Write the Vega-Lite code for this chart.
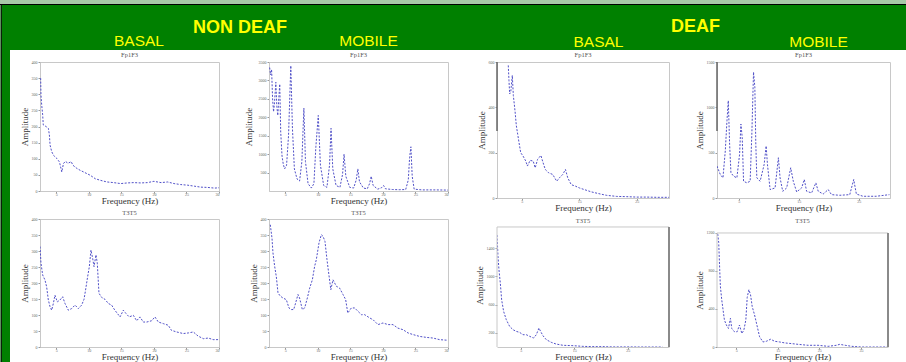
{
  "$schema": "https://vega.github.io/schema/vega-lite/v6.json",
  "background": "white",
  "padding": 0,
  "columns": 14,
  "align": "none",
  "bounds": "flush",
  "spacing": 0,
  "data": {"values": []},
  "config": {
    "view": {"stroke": "#c8c8c8"},
    "line": {"stroke": "#5050c8", "strokeWidth": 1, "strokeDash": [2, 1.5]},
    "axis": {"grid": false, "labelFontSize": 4, "labelColor": "#666", "labelFont": "Liberation Serif", "tickSize": 2, "tickColor": "#999", "domainColor": "#c8c8c8", "titleFont": "Liberation Serif", "titleFontWeight": "normal", "titleFontSize": 9, "titleColor": "#333", "labelPadding": -1, "titlePadding": 0.5},
    "axisY": {"labelPadding": 1, "titlePadding": 2},
    "title": {"fontSize": 6.5, "font": "Liberation Serif", "fontWeight": "normal", "color": "#555", "offset": 2}
  },
  "datasets": {
    "p1": [{"f":2.6,"a":350},{"f":2.65,"a":298},{"f":2.76,"a":267},{"f":2.91,"a":236},{"f":3.0,"a":205},{"f":3.43,"a":200},{"f":3.79,"a":194},{"f":3.94,"a":174},{"f":4.05,"a":142},{"f":4.3,"a":122},{"f":4.56,"a":111},{"f":5.08,"a":101},{"f":5.49,"a":90},{"f":5.85,"a":59},{"f":6.1,"a":85},{"f":6.4,"a":92},{"f":6.8,"a":86},{"f":7.3,"a":91},{"f":7.55,"a":80},{"f":8.17,"a":70},{"f":8.69,"a":64},{"f":9.2,"a":59},{"f":9.7,"a":54},{"f":10.2,"a":49},{"f":11.0,"a":38},{"f":11.8,"a":33},{"f":12.8,"a":28},{"f":13.8,"a":26},{"f":14.9,"a":23},{"f":15.9,"a":25},{"f":16.9,"a":26},{"f":18.0,"a":25},{"f":19.0,"a":26},{"f":20.0,"a":30},{"f":21.1,"a":26},{"f":22.1,"a":28},{"f":23.1,"a":23},{"f":24.1,"a":20},{"f":25.2,"a":18},{"f":26.2,"a":15},{"f":27.2,"a":12},{"f":28.3,"a":11},{"f":29.3,"a":9},{"f":30,"a":10}],
    "p2": [{"f":2.6,"a":3350},{"f":2.75,"a":3150},{"f":2.9,"a":3300},{"f":3.05,"a":2500},{"f":3.2,"a":2150},{"f":3.35,"a":2400},{"f":3.55,"a":2950},{"f":3.7,"a":2300},{"f":3.85,"a":2050},{"f":4.0,"a":2500},{"f":4.15,"a":2900},{"f":4.3,"a":1600},{"f":4.5,"a":950},{"f":4.7,"a":720},{"f":4.9,"a":600},{"f":5.2,"a":700},{"f":5.5,"a":1500},{"f":5.85,"a":3400},{"f":6.1,"a":1700},{"f":6.4,"a":600},{"f":6.8,"a":330},{"f":7.2,"a":270},{"f":7.55,"a":800},{"f":7.86,"a":2250},{"f":8.1,"a":800},{"f":8.5,"a":200},{"f":9.0,"a":80},{"f":9.4,"a":200},{"f":9.7,"a":1200},{"f":10.07,"a":2050},{"f":10.4,"a":700},{"f":10.9,"a":150},{"f":11.4,"a":100},{"f":11.8,"a":700},{"f":12.03,"a":1700},{"f":12.3,"a":600},{"f":12.8,"a":150},{"f":13.4,"a":100},{"f":13.8,"a":450},{"f":14.03,"a":1000},{"f":14.3,"a":400},{"f":14.9,"a":100},{"f":15.5,"a":80},{"f":15.9,"a":300},{"f":16.15,"a":600},{"f":16.4,"a":250},{"f":17.0,"a":80},{"f":17.6,"a":60},{"f":17.95,"a":200},{"f":18.2,"a":400},{"f":18.5,"a":150},{"f":19.2,"a":50},{"f":19.8,"a":90},{"f":20.1,"a":150},{"f":20.4,"a":60},{"f":21.5,"a":40},{"f":22.5,"a":35},{"f":23.5,"a":40},{"f":23.9,"a":300},{"f":24.1,"a":900},{"f":24.3,"a":1200},{"f":24.5,"a":400},{"f":24.8,"a":50},{"f":26,"a":30},{"f":28,"a":30},{"f":30,"a":25}],
    "p3": [{"f":2.66,"a":585},{"f":2.78,"a":519},{"f":2.9,"a":459},{"f":3.1,"a":470},{"f":3.36,"a":541},{"f":3.54,"a":452},{"f":3.83,"a":385},{"f":4.06,"a":319},{"f":4.3,"a":281},{"f":4.53,"a":244},{"f":4.82,"a":200},{"f":5.23,"a":185},{"f":5.7,"a":163},{"f":5.99,"a":141},{"f":6.46,"a":166},{"f":6.99,"a":163},{"f":7.34,"a":133},{"f":7.75,"a":170},{"f":8.33,"a":188},{"f":8.62,"a":163},{"f":9.09,"a":126},{"f":9.68,"a":111},{"f":10.38,"a":104},{"f":11.08,"a":74},{"f":11.55,"a":89},{"f":12.13,"a":104},{"f":12.6,"a":126},{"f":13.0,"a":89},{"f":13.6,"a":59},{"f":14.36,"a":52},{"f":15.06,"a":44},{"f":15.9,"a":37},{"f":17.1,"a":27},{"f":18.6,"a":18},{"f":19.7,"a":12},{"f":21.5,"a":7},{"f":23.2,"a":6},{"f":25,"a":4},{"f":26.8,"a":4},{"f":28.5,"a":3},{"f":30.6,"a":3}],
    "p4": [{"f":1.4,"a":352},{"f":1.95,"a":259},{"f":2.39,"a":222},{"f":2.78,"a":519},{"f":3.06,"a":852},{"f":3.28,"a":1074},{"f":3.5,"a":593},{"f":3.72,"a":278},{"f":4.16,"a":241},{"f":4.71,"a":222},{"f":5.16,"a":481},{"f":5.38,"a":815},{"f":5.6,"a":667},{"f":5.82,"a":185},{"f":6.37,"a":167},{"f":6.92,"a":185},{"f":7.2,"a":704},{"f":7.48,"a":1389},{"f":7.7,"a":1222},{"f":7.86,"a":593},{"f":8.03,"a":222},{"f":8.58,"a":185},{"f":9.25,"a":370},{"f":9.58,"a":574},{"f":9.8,"a":370},{"f":10.24,"a":93},{"f":11.07,"a":111},{"f":11.62,"a":444},{"f":11.9,"a":222},{"f":12.34,"a":74},{"f":13.0,"a":111},{"f":13.67,"a":333},{"f":14.1,"a":185},{"f":14.66,"a":67},{"f":15.49,"a":111},{"f":15.93,"a":204},{"f":16.32,"a":74},{"f":17.15,"a":56},{"f":17.86,"a":167},{"f":18.25,"a":74},{"f":19.08,"a":44},{"f":19.91,"a":93},{"f":20.46,"a":37},{"f":21.84,"a":30},{"f":23.5,"a":37},{"f":24.16,"a":204},{"f":24.6,"a":44},{"f":25.7,"a":19},{"f":27.9,"a":19},{"f":30.1,"a":37}],
    "p5": [{"f":2.5,"a":314},{"f":2.65,"a":262},{"f":2.91,"a":225},{"f":3.27,"a":209},{"f":3.52,"a":188},{"f":3.78,"a":147},{"f":4.04,"a":126},{"f":4.29,"a":115},{"f":4.55,"a":136},{"f":4.8,"a":162},{"f":5.16,"a":141},{"f":5.57,"a":147},{"f":5.98,"a":157},{"f":6.34,"a":136},{"f":6.85,"a":115},{"f":7.36,"a":120},{"f":7.88,"a":131},{"f":8.39,"a":120},{"f":8.9,"a":131},{"f":9.26,"a":149},{"f":9.5,"a":178},{"f":9.82,"a":220},{"f":10.08,"a":251},{"f":10.33,"a":303},{"f":10.59,"a":277},{"f":10.8,"a":251},{"f":11.1,"a":288},{"f":11.3,"a":262},{"f":11.56,"a":168},{"f":11.97,"a":155},{"f":12.48,"a":149},{"f":13.0,"a":136},{"f":13.5,"a":131},{"f":14.0,"a":115},{"f":14.8,"a":94},{"f":15.3,"a":115},{"f":15.7,"a":105},{"f":16.2,"a":94},{"f":16.84,"a":99},{"f":17.35,"a":82},{"f":17.86,"a":94},{"f":18.37,"a":78},{"f":18.9,"a":78},{"f":19.65,"a":82},{"f":20.16,"a":94},{"f":20.68,"a":78},{"f":21.45,"a":73},{"f":22.2,"a":68},{"f":22.7,"a":52},{"f":23.5,"a":47},{"f":24.5,"a":42},{"f":25.3,"a":44},{"f":26.05,"a":47},{"f":26.8,"a":34},{"f":27.6,"a":26},{"f":28.36,"a":28},{"f":29.1,"a":23},{"f":30,"a":23}],
    "p6": [{"f":2.7,"a":382},{"f":2.96,"a":340},{"f":3.11,"a":294},{"f":3.37,"a":252},{"f":3.63,"a":219},{"f":3.88,"a":169},{"f":4.24,"a":159},{"f":4.65,"a":153},{"f":5.16,"a":148},{"f":5.57,"a":122},{"f":5.93,"a":117},{"f":6.29,"a":117},{"f":6.6,"a":138},{"f":6.95,"a":164},{"f":7.2,"a":153},{"f":7.62,"a":117},{"f":7.98,"a":122},{"f":8.39,"a":153},{"f":8.75,"a":184},{"f":9.16,"a":210},{"f":9.51,"a":252},{"f":9.77,"a":273},{"f":10.18,"a":325},{"f":10.54,"a":351},{"f":10.8,"a":346},{"f":11.1,"a":330},{"f":11.41,"a":273},{"f":11.7,"a":226},{"f":12.0,"a":179},{"f":12.33,"a":210},{"f":12.84,"a":190},{"f":13.35,"a":184},{"f":13.87,"a":164},{"f":14.28,"a":148},{"f":14.6,"a":106},{"f":15.15,"a":122},{"f":15.66,"a":122},{"f":16.2,"a":111},{"f":16.7,"a":101},{"f":17.2,"a":101},{"f":17.96,"a":91},{"f":18.5,"a":85},{"f":19.24,"a":70},{"f":20.0,"a":75},{"f":20.8,"a":70},{"f":21.55,"a":70},{"f":22.3,"a":59},{"f":23.1,"a":54},{"f":23.85,"a":44},{"f":24.6,"a":39},{"f":25.65,"a":33},{"f":26.7,"a":30},{"f":27.7,"a":28},{"f":28.7,"a":23},{"f":30,"a":21}],
    "p7": [{"f":0.56,"a":1586},{"f":0.75,"a":1280},{"f":0.93,"a":1092},{"f":1.18,"a":904},{"f":1.43,"a":668},{"f":1.8,"a":504},{"f":2.3,"a":386},{"f":2.92,"a":292},{"f":3.55,"a":245},{"f":4.17,"a":221},{"f":4.79,"a":207},{"f":5.41,"a":174},{"f":6.04,"a":174},{"f":6.66,"a":151},{"f":7.4,"a":127},{"f":7.9,"a":174},{"f":8.4,"a":268},{"f":8.71,"a":221},{"f":9.15,"a":160},{"f":9.77,"a":104},{"f":10.7,"a":66},{"f":11.6,"a":42},{"f":12.9,"a":24},{"f":14.75,"a":19},{"f":16.6,"a":9},{"f":18.5,"a":5},{"f":20.35,"a":5},{"f":22.2,"a":1},{"f":24.7,"a":1},{"f":27.2,"a":0},{"f":29.7,"a":0},{"f":31.5,"a":0}],
    "p8": [{"f":0.57,"a":1189},{"f":0.81,"a":1100},{"f":1.05,"a":816},{"f":1.21,"a":639},{"f":1.54,"a":497},{"f":1.86,"a":390},{"f":2.18,"a":284},{"f":2.66,"a":231},{"f":3.15,"a":195},{"f":3.63,"a":302},{"f":3.95,"a":195},{"f":4.6,"a":160},{"f":5.24,"a":160},{"f":5.8,"a":231},{"f":6.37,"a":142},{"f":6.85,"a":177},{"f":7.33,"a":284},{"f":7.66,"a":522},{"f":8.06,"a":603},{"f":8.46,"a":550},{"f":8.86,"a":426},{"f":9.43,"a":337},{"f":9.99,"a":231},{"f":10.64,"a":107},{"f":11.44,"a":53},{"f":12.25,"a":60},{"f":13.3,"a":82},{"f":14.25,"a":60},{"f":15.46,"a":53},{"f":16.67,"a":43},{"f":18.28,"a":36},{"f":19.9,"a":28},{"f":22.3,"a":18},{"f":24.7,"a":18},{"f":27.1,"a":7},{"f":29.1,"a":18},{"f":29.9,"a":28},{"f":31.2,"a":18},{"f":32.8,"a":7},{"f":35.2,"a":0},{"f":38.4,"a":0},{"f":41.5,"a":0}]
  },
  "concat": [
    {"width": 1, "height": 4, "mark": "point", "view": {"fill": "#a8c8a8", "stroke": null}},
    {"width": 1, "height": 4, "mark": "point", "view": {"fill": "#a8c8a8", "stroke": null}},
    {"width": 8, "height": 4, "mark": "point", "view": {"fill": "#a8c8a8", "stroke": null}},
    {"width": 30, "height": 4, "mark": "point", "view": {"fill": "#a8c8a8", "stroke": null}},
    {"width": 179, "height": 4, "mark": "point", "view": {"fill": "#a8c8a8", "stroke": null}},
    {"width": 50, "height": 4, "mark": "point", "view": {"fill": "#a8c8a8", "stroke": null}},
    {"width": 179, "height": 4, "mark": "point", "view": {"fill": "#a8c8a8", "stroke": null}},
    {"width": 7, "height": 4, "mark": "point", "view": {"fill": "#a8c8a8", "stroke": null}},
    {"width": 7, "height": 4, "mark": "point", "view": {"fill": "#a8c8a8", "stroke": null}},
    {"width": 35, "height": 4, "mark": "point", "view": {"fill": "#a8c8a8", "stroke": null}},
    {"width": 172, "height": 4, "mark": "point", "view": {"fill": "#a8c8a8", "stroke": null}},
    {"width": 48, "height": 4, "mark": "point", "view": {"fill": "#a8c8a8", "stroke": null}},
    {"width": 173, "height": 4, "mark": "point", "view": {"fill": "#a8c8a8", "stroke": null}},
    {"width": 16, "height": 4, "mark": "point", "view": {"fill": "#a8c8a8", "stroke": null}},

    {"width": 1, "height": 1, "mark": "point", "view": {"fill": "#000000", "stroke": null}},
    {"width": 1, "height": 1, "mark": "point", "view": {"fill": "#000000", "stroke": null}},
    {"width": 8, "height": 1, "mark": "point", "view": {"fill": "#000000", "stroke": null}},
    {"width": 30, "height": 1, "mark": "point", "view": {"fill": "#000000", "stroke": null}},
    {"width": 179, "height": 1, "mark": "point", "view": {"fill": "#000000", "stroke": null}},
    {"width": 50, "height": 1, "mark": "point", "view": {"fill": "#000000", "stroke": null}},
    {"width": 179, "height": 1, "mark": "point", "view": {"fill": "#000000", "stroke": null}},
    {"width": 7, "height": 1, "mark": "point", "view": {"fill": "#000000", "stroke": null}},
    {"width": 7, "height": 1, "mark": "point", "view": {"fill": "#000000", "stroke": null}},
    {"width": 35, "height": 1, "mark": "point", "view": {"fill": "#000000", "stroke": null}},
    {"width": 172, "height": 1, "mark": "point", "view": {"fill": "#000000", "stroke": null}},
    {"width": 48, "height": 1, "mark": "point", "view": {"fill": "#000000", "stroke": null}},
    {"width": 173, "height": 1, "mark": "point", "view": {"fill": "#000000", "stroke": null}},
    {"width": 16, "height": 1, "mark": "point", "view": {"fill": "#000000", "stroke": null}},

    {"width": 1, "height": 45, "mark": "point", "view": {"fill": "#5f8f5f", "stroke": null}},
    {"width": 1, "height": 45, "mark": "point", "view": {"fill": "#0a200a", "stroke": null}},
    {"width": 8, "height": 45, "mark": "point", "view": {"fill": "#008000", "stroke": null}},
    {"width": 30, "height": 45, "mark": "point", "view": {"fill": "#008000", "stroke": null}},
    {"width": 179, "height": 45, "view": {"fill": "#008000", "stroke": null}, "data": {"values": [{"label": "BASAL"}]},
     "mark": {"type": "text", "font": "Liberation Sans", "fontSize": 15.5, "color": "#ffff00", "baseline": "alphabetic", "align": "center", "dx": 9.5, "dy": 18.5},
     "encoding": {"text": {"field": "label", "type": "nominal"}}},
    {"width": 50, "height": 45, "mark": "point", "view": {"fill": "#008000", "stroke": null}},
    {"width": 179, "height": 45, "view": {"fill": "#008000", "stroke": null},
     "layer": [
       {"data": {"values": [{"label": "NON DEAF"}]}, "mark": {"type": "text", "font": "Liberation Sans", "fontSize": 18, "fontWeight": "bold", "color": "#ffff00", "baseline": "alphabetic", "align": "center", "dx": -118.5, "dy": 5.2}, "encoding": {"text": {"field": "label", "type": "nominal"}}},
       {"data": {"values": [{"label": "MOBILE"}]}, "mark": {"type": "text", "font": "Liberation Sans", "fontSize": 15.5, "color": "#ffff00", "baseline": "alphabetic", "align": "center", "dx": 10, "dy": 18.5}, "encoding": {"text": {"field": "label", "type": "nominal"}}}
     ]},
    {"width": 7, "height": 45, "mark": "point", "view": {"fill": "#008000", "stroke": null}},
    {"width": 7, "height": 45, "mark": "point", "view": {"fill": "#008000", "stroke": null}},
    {"width": 35, "height": 45, "mark": "point", "view": {"fill": "#008000", "stroke": null}},
    {"width": 172, "height": 45, "view": {"fill": "#008000", "stroke": null}, "data": {"values": [{"label": "BASAL"}]},
     "mark": {"type": "text", "font": "Liberation Sans", "fontSize": 15.5, "color": "#ffff00", "baseline": "alphabetic", "align": "center", "dx": 15.5, "dy": 19.2},
     "encoding": {"text": {"field": "label", "type": "nominal"}}},
    {"width": 48, "height": 45, "mark": "point", "view": {"fill": "#008000", "stroke": null}},
    {"width": 173, "height": 45, "view": {"fill": "#008000", "stroke": null},
     "layer": [
       {"data": {"values": [{"label": "DEAF"}]}, "mark": {"type": "text", "font": "Liberation Sans", "fontSize": 18, "fontWeight": "bold", "color": "#ffff00", "baseline": "alphabetic", "align": "center", "dx": -108, "dy": 4.8}, "encoding": {"text": {"field": "label", "type": "nominal"}}},
       {"data": {"values": [{"label": "MOBILE"}]}, "mark": {"type": "text", "font": "Liberation Sans", "fontSize": 15.5, "color": "#ffff00", "baseline": "alphabetic", "align": "center", "dx": 15, "dy": 19}, "encoding": {"text": {"field": "label", "type": "nominal"}}}
     ]},
    {"width": 16, "height": 45, "mark": "point", "view": {"fill": "#008000", "stroke": null}},

    {"width": 1, "height": 12, "mark": "point", "view": {"fill": "#5f8f5f", "stroke": null}},
    {"width": 1, "height": 12, "mark": "point", "view": {"fill": "#0a200a", "stroke": null}},
    {"width": 8, "height": 12, "mark": "point", "view": {"fill": "#008000", "stroke": null}},
    {"width": 30, "height": 12, "mark": "point", "view": {"stroke": null}},
    {"width": 179, "height": 12, "mark": "point", "view": {"stroke": null}},
    {"width": 50, "height": 12, "mark": "point", "view": {"stroke": null}},
    {"width": 179, "height": 12, "mark": "point", "view": {"stroke": null}},
    {"width": 7, "height": 12, "mark": "point", "view": {"stroke": null}},
    {"width": 7, "height": 12, "mark": "point", "view": {"stroke": null}},
    {"width": 35, "height": 12, "mark": "point", "view": {"stroke": null}},
    {"width": 172, "height": 12, "mark": "point", "view": {"stroke": null}},
    {"width": 48, "height": 12, "mark": "point", "view": {"stroke": null}},
    {"width": 173, "height": 12, "mark": "point", "view": {"stroke": null}},
    {"width": 16, "height": 12, "mark": "point", "view": {"stroke": null}},

    {"width": 1, "height": 136, "mark": "point", "view": {"fill": "#5f8f5f", "stroke": null}},
    {"width": 1, "height": 136, "mark": "point", "view": {"fill": "#0a200a", "stroke": null}},
    {"width": 8, "height": 136, "mark": "point", "view": {"fill": "#008000", "stroke": null}},
    {"width": 30, "height": 1, "mark": "point", "view": {"stroke": null}},
    {"width": 179, "height": 129, "title": {"text": "Fp1F3"}, "data": {"name": "p1"}, "mark": {"type": "line", "clip": true},
     "encoding": {"x": {"field": "f", "type": "quantitative", "scale": {"domain": [2.5, 30], "nice": false, "zero": false}, "axis": {"values": [5, 10, 15, 20, 25, 30], "title": "Frequency (Hz)"}},
                  "y": {"field": "a", "type": "quantitative", "scale": {"domain": [0, 400], "nice": false}, "axis": {"values": [0, 50, 100, 150, 200, 250, 300, 350, 400], "format": "d", "title": "Amplitude"}}}},
    {"width": 50, "height": 1, "mark": "point", "view": {"stroke": null}},
    {"width": 179, "height": 129, "title": {"text": "Fp1F3"}, "data": {"name": "p2"}, "mark": {"type": "line", "clip": true},
     "encoding": {"x": {"field": "f", "type": "quantitative", "scale": {"domain": [2.5, 30], "nice": false, "zero": false}, "axis": {"values": [5, 10, 15, 20, 25, 30], "title": "Frequency (Hz)"}},
                  "y": {"field": "a", "type": "quantitative", "scale": {"domain": [0, 3500], "nice": false}, "axis": {"values": [500, 1000, 1500, 2000, 2500, 3000, 3500], "format": "d", "title": "Amplitude", "titlePadding": 5}}}},
    {"width": 7, "height": 1, "mark": "point", "view": {"stroke": null}},
    {"width": 7, "height": 1, "mark": "point", "view": {"stroke": null}},
    {"width": 35, "height": 1, "mark": "point", "view": {"stroke": null}},
    {"width": 172, "height": 136, "title": {"text": "Fp1F3"},
     "layer": [
       {"data": {"name": "p3"}, "mark": {"type": "line", "clip": true},
        "encoding": {"x": {"field": "f", "type": "quantitative", "scale": {"domain": [0.7, 30.6], "nice": false, "zero": false}, "axis": {"values": [5, 10, 15, 20, 25, 30], "title": "Frequency (Hz)"}},
                     "y": {"field": "a", "type": "quantitative", "scale": {"domain": [0, 600], "nice": false}, "axis": {"values": [0, 100, 200, 300, 400, 500, 600], "format": "d", "title": "Amplitude"}}}},
       {"data": {"values": [{}]}, "mark": {"type": "rule", "color": "#666", "strokeWidth": 1.5},
        "encoding": {"x": {"datum": 0.7, "type": "quantitative", "title": "Frequency (Hz)"}, "y": {"datum": 296, "type": "quantitative", "title": "Amplitude"}, "y2": {"datum": 600}}}
     ]},
    {"width": 48, "height": 1, "mark": "point", "view": {"stroke": null}},
    {"width": 173, "height": 136, "title": {"text": "Fp1F3"},
     "layer": [
       {"data": {"name": "p4"}, "mark": {"type": "line", "clip": true},
        "encoding": {"x": {"field": "f", "type": "quantitative", "scale": {"domain": [1.4, 30.2], "nice": false, "zero": false}, "axis": {"values": [5, 10, 15, 20, 25, 30], "title": "Frequency (Hz)"}},
                     "y": {"field": "a", "type": "quantitative", "scale": {"domain": [0, 1500], "nice": false}, "axis": {"values": [0, 500, 1000, 1500], "format": "d", "title": "Amplitude"}}}},
       {"data": {"values": [{}]}, "mark": {"type": "rule", "color": "#666", "strokeWidth": 1.5},
        "encoding": {"x": {"datum": 1.4, "type": "quantitative", "title": "Frequency (Hz)"}, "y": {"datum": 740, "type": "quantitative", "title": "Amplitude"}, "y2": {"datum": 1500}}}
     ]},
    {"width": 16, "height": 1, "mark": "point", "view": {"stroke": null}},

    {"width": 1, "height": 21, "mark": "point", "view": {"fill": "#5f8f5f", "stroke": null}},
    {"width": 1, "height": 21, "mark": "point", "view": {"fill": "#0a200a", "stroke": null}},
    {"width": 8, "height": 21, "mark": "point", "view": {"fill": "#008000", "stroke": null}},
    {"width": 30, "height": 1, "mark": "point", "view": {"stroke": null}},
    {"width": 179, "height": 1, "mark": "point", "view": {"stroke": null}},
    {"width": 50, "height": 1, "mark": "point", "view": {"stroke": null}},
    {"width": 179, "height": 1, "mark": "point", "view": {"stroke": null}},
    {"width": 7, "height": 1, "mark": "point", "view": {"stroke": null}},
    {"width": 7, "height": 1, "mark": "point", "view": {"stroke": null}},
    {"width": 35, "height": 1, "mark": "point", "view": {"stroke": null}},
    {"width": 172, "height": 1, "mark": "point", "view": {"stroke": null}},
    {"width": 48, "height": 1, "mark": "point", "view": {"stroke": null}},
    {"width": 173, "height": 1, "mark": "point", "view": {"stroke": null}},
    {"width": 16, "height": 1, "mark": "point", "view": {"stroke": null}},

    {"width": 1, "height": 143, "mark": "point", "view": {"fill": "#5f8f5f", "stroke": null}},
    {"width": 1, "height": 143, "mark": "point", "view": {"fill": "#0a200a", "stroke": null}},
    {"width": 8, "height": 143, "mark": "point", "view": {"fill": "#008000", "stroke": null}},
    {"width": 30, "height": 1, "mark": "point", "view": {"stroke": null}},
    {"width": 179, "height": 128, "title": {"text": "T3T5", "offset": 1}, "data": {"name": "p5"}, "mark": {"type": "line", "clip": true},
     "encoding": {"x": {"field": "f", "type": "quantitative", "scale": {"domain": [2.5, 30], "nice": false, "zero": false}, "axis": {"values": [5, 10, 15, 20, 25, 30], "title": "Frequency (Hz)"}},
                  "y": {"field": "a", "type": "quantitative", "scale": {"domain": [0, 400], "nice": false}, "axis": {"values": [0, 50, 100, 150, 200, 250, 300, 350, 400], "format": "d", "title": "Amplitude"}}}},
    {"width": 50, "height": 1, "mark": "point", "view": {"stroke": null}},
    {"width": 179, "height": 128, "title": {"text": "T3T5", "offset": 1}, "data": {"name": "p6"}, "mark": {"type": "line", "clip": true},
     "encoding": {"x": {"field": "f", "type": "quantitative", "scale": {"domain": [2.5, 30], "nice": false, "zero": false}, "axis": {"values": [5, 10, 15, 20, 25, 30], "title": "Frequency (Hz)"}},
                  "y": {"field": "a", "type": "quantitative", "scale": {"domain": [0, 400], "nice": false}, "axis": {"values": [0, 50, 100, 150, 200, 250, 300, 350, 400], "format": "d", "title": "Amplitude"}}}},
    {"width": 7, "height": 1, "mark": "point", "view": {"stroke": null}},
    {"width": 7, "height": 1, "mark": "point", "view": {"stroke": null}},
    {"width": 35, "height": 1, "mark": "point", "view": {"stroke": null}},
    {"width": 172, "height": 128, "title": {"text": "T3T5", "offset": -5}, "view": {"stroke": null},
     "layer": [
       {"data": {"name": "p7"}, "mark": {"type": "line", "clip": true},
        "encoding": {"x": {"field": "f", "type": "quantitative", "scale": {"domain": [0.56, 32.7], "nice": false, "zero": false}, "axis": {"values": [5, 10, 15, 20, 25, 30], "title": "Frequency (Hz)"}},
                     "y": {"field": "a", "type": "quantitative", "scale": {"domain": [0, 1813], "nice": false}, "axis": {"values": [200, 400, 600, 800, 1000, 1200, 1400, 1600], "format": "d", "title": "Amplitude", "domain": false, "titleY": 66}}}},
       {"data": {"values": [{}]}, "mark": {"type": "rule", "color": "#c8c8c8"},
        "encoding": {"x": {"datum": 0.56, "type": "quantitative", "title": "Frequency (Hz)"}, "y": {"datum": 0, "type": "quantitative", "title": "Amplitude"}, "y2": {"datum": 1700}}},
       {"data": {"values": [{}]}, "mark": {"type": "rule", "color": "#c8c8c8"},
        "encoding": {"x": {"datum": 0.56, "type": "quantitative", "title": "Frequency (Hz)"}, "x2": {"datum": 32.7}, "y": {"datum": 1700, "type": "quantitative", "title": "Amplitude"}}},
       {"data": {"values": [{}]}, "mark": {"type": "rule", "color": "#8a8a8a", "strokeWidth": 2},
        "encoding": {"x": {"datum": 32.7, "type": "quantitative", "title": "Frequency (Hz)"}, "y": {"datum": 0, "type": "quantitative", "title": "Amplitude"}, "y2": {"datum": 1700}}}
     ]},
    {"width": 48, "height": 1, "mark": "point", "view": {"stroke": null}},
    {"width": 171, "height": 128, "title": {"text": "T3T5", "offset": -5}, "view": {"stroke": null},
     "layer": [
       {"data": {"name": "p8"}, "mark": {"type": "line", "clip": true},
        "encoding": {"x": {"field": "f", "type": "quantitative", "scale": {"domain": [0.4, 41.5], "nice": false, "zero": false}, "axis": {"values": [5, 10, 15, 20, 25, 30, 35, 40], "title": "Frequency (Hz)"}},
                     "y": {"field": "a", "type": "quantitative", "scale": {"domain": [0, 1347], "nice": false}, "axis": {"values": [0, 200, 400, 600, 800, 1000, 1200], "format": "d", "title": "Amplitude", "domain": false, "titleY": 71}}}},
       {"data": {"values": [{}]}, "mark": {"type": "rule", "color": "#c8c8c8"},
        "encoding": {"x": {"datum": 0.4, "type": "quantitative", "title": "Frequency (Hz)"}, "y": {"datum": 0, "type": "quantitative", "title": "Amplitude"}, "y2": {"datum": 1200}}},
       {"data": {"values": [{}]}, "mark": {"type": "rule", "color": "#c8c8c8"},
        "encoding": {"x": {"datum": 0.4, "type": "quantitative", "title": "Frequency (Hz)"}, "x2": {"datum": 41.5}, "y": {"datum": 1200, "type": "quantitative", "title": "Amplitude"}}},
       {"data": {"values": [{}]}, "mark": {"type": "rule", "color": "#8a8a8a", "strokeWidth": 2},
        "encoding": {"x": {"datum": 41.5, "type": "quantitative", "title": "Frequency (Hz)"}, "y": {"datum": 0, "type": "quantitative", "title": "Amplitude"}, "y2": {"datum": 1200}}}
     ]}
  ]
}
